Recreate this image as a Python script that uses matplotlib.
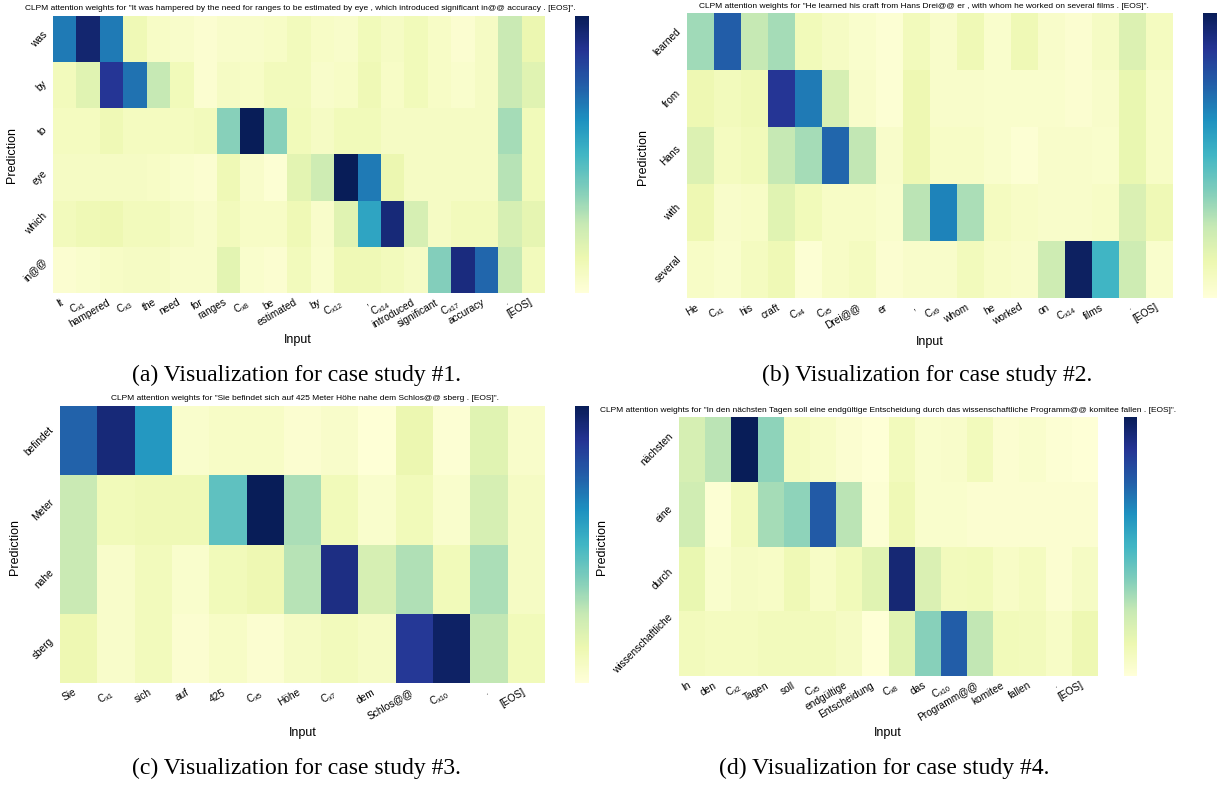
import numpy as np
import seaborn as sns
import matplotlib.pyplot as plt

plt.rcParams["font.family"] = ["Liberation Sans", "DejaVu Sans"]
plt.rcParams["mathtext.fontset"] = "custom"
plt.rcParams["mathtext.rm"] = "Liberation Sans"
plt.rcParams["mathtext.it"] = "Liberation Sans:italic"

# case study 1
sent1 = "It was hampered by the need for ranges to be estimated by eye , which introduced significant in@@ accuracy . [EOS]"
inputs1 = ["It", "C$_{x1}$", "hampered", "C$_{x3}$", "the", "need", "for", "ranges", "C$_{x8}$", "be",
           "estimated", "by", "C$_{x12}$", ",", "C$_{x14}$", "introduced", "significant", "C$_{x17}$",
           "accuracy", ".", "[EOS]"]
preds1 = ["was", "by", "to", "eye", "which", "in@@"]
weights1 = [
    [0.68, 0.95, 0.68, 0.11, 0.06, 0.05, 0.03, 0.05, 0.05, 0.06, 0.09, 0.06, 0.05, 0.10, 0.07, 0.10, 0.06, 0.03, 0.07, 0.24, 0.13],
    [0.09, 0.17, 0.87, 0.70, 0.25, 0.10, 0.03, 0.07, 0.06, 0.09, 0.09, 0.05, 0.06, 0.11, 0.06, 0.10, 0.06, 0.04, 0.07, 0.24, 0.17],
    [0.08, 0.08, 0.11, 0.08, 0.08, 0.08, 0.09, 0.36, 1.00, 0.36, 0.10, 0.07, 0.10, 0.10, 0.07, 0.07, 0.07, 0.07, 0.07, 0.31, 0.10],
    [0.07, 0.07, 0.07, 0.07, 0.06, 0.04, 0.03, 0.11, 0.05, 0.02, 0.16, 0.23, 1.00, 0.68, 0.13, 0.07, 0.07, 0.07, 0.07, 0.28, 0.10],
    [0.09, 0.11, 0.12, 0.09, 0.09, 0.07, 0.05, 0.09, 0.06, 0.06, 0.11, 0.05, 0.17, 0.56, 0.93, 0.20, 0.07, 0.09, 0.09, 0.20, 0.15],
    [0.03, 0.04, 0.06, 0.07, 0.07, 0.05, 0.05, 0.16, 0.04, 0.03, 0.09, 0.04, 0.11, 0.11, 0.09, 0.07, 0.37, 0.92, 0.73, 0.25, 0.09],
]

# case study 2
sent2 = "He learned his craft from Hans Drei@@ er , with whom he worked on several films . [EOS]"
inputs2 = ["He", "C$_{x1}$", "his", "craft", "C$_{x4}$", "C$_{x5}$", "Drei@@", "er", ",", "C$_{x9}$",
           "whom", "he", "worked", "on", "C$_{x14}$", "films", ".", "[EOS]"]
preds2 = ["learned", "from", "Hans", "with", "several"]
weights2 = [
    [0.32, 0.75, 0.25, 0.31, 0.10, 0.07, 0.04, 0.02, 0.09, 0.05, 0.11, 0.04, 0.11, 0.05, 0.03, 0.07, 0.18, 0.08],
    [0.12, 0.09, 0.11, 0.87, 0.68, 0.20, 0.05, 0.02, 0.12, 0.05, 0.05, 0.04, 0.04, 0.04, 0.03, 0.05, 0.14, 0.06],
    [0.18, 0.08, 0.10, 0.25, 0.31, 0.73, 0.26, 0.05, 0.12, 0.06, 0.06, 0.04, 0.02, 0.05, 0.05, 0.04, 0.14, 0.06],
    [0.12, 0.05, 0.06, 0.17, 0.10, 0.06, 0.06, 0.04, 0.27, 0.66, 0.30, 0.08, 0.06, 0.05, 0.05, 0.06, 0.19, 0.11],
    [0.06, 0.04, 0.08, 0.11, 0.02, 0.06, 0.08, 0.03, 0.05, 0.05, 0.09, 0.06, 0.05, 0.23, 0.98, 0.50, 0.23, 0.04],
]

# case study 3
sent3 = "Sie befindet sich auf 425 Meter Höhe nahe dem Schlos@@ sberg . [EOS]"
inputs3 = ["Sie", "C$_{x1}$", "sich", "auf", "425", "C$_{x5}$", "Höhe", "C$_{x7}$", "dem", "Schlos@@",
           "C$_{x10}$", ".", "[EOS]"]
preds3 = ["befindet", "Meter", "nahe", "sberg"]
weights3 = [
    [0.74, 0.93, 0.60, 0.04, 0.06, 0.06, 0.03, 0.05, 0.01, 0.13, 0.02, 0.17, 0.05],
    [0.24, 0.10, 0.11, 0.11, 0.44, 1.00, 0.30, 0.10, 0.04, 0.10, 0.04, 0.20, 0.07],
    [0.24, 0.05, 0.09, 0.04, 0.10, 0.12, 0.28, 0.91, 0.20, 0.29, 0.10, 0.30, 0.07],
    [0.12, 0.05, 0.09, 0.03, 0.06, 0.03, 0.07, 0.09, 0.07, 0.86, 0.97, 0.26, 0.10],
]

# case study 4
sent4 = ("In den nächsten Tagen soll eine endgültige Entscheidung durch das wissenschaftliche "
         "Programm@@ komitee fallen . [EOS]")
inputs4 = ["In", "den", "C$_{x2}$", "Tagen", "soll", "C$_{x5}$", "endgültige", "Entscheidung", "C$_{x8}$",
           "das", "C$_{x10}$", "Programm@@", "komitee", "fallen", ".", "[EOS]"]
preds4 = ["nächsten", "eine", "durch", "wissenschaftliche"]
weights4 = [
    [0.20, 0.27, 1.00, 0.35, 0.08, 0.06, 0.03, 0.01, 0.09, 0.04, 0.05, 0.09, 0.03, 0.04, 0.02, 0.01],
    [0.22, 0.02, 0.09, 0.31, 0.35, 0.76, 0.27, 0.02, 0.11, 0.04, 0.04, 0.03, 0.03, 0.03, 0.03, 0.03],
    [0.14, 0.04, 0.07, 0.06, 0.11, 0.06, 0.10, 0.17, 0.94, 0.19, 0.09, 0.10, 0.06, 0.08, 0.03, 0.07],
    [0.09, 0.08, 0.08, 0.09, 0.09, 0.09, 0.07, 0.01, 0.17, 0.36, 0.75, 0.26, 0.10, 0.09, 0.06, 0.12],
]

captions = ["(a) Visualization for case study #1.", "(b) Visualization for case study #2.",
            "(c) Visualization for case study #3.", "(d) Visualization for case study #4."]

W, H = 1217, 785

# pixel boxes (x0, y0, x1, y1) measured on the reference, y from top
layout = [
    dict(heat=(53, 16, 545, 293), cbar=(575, 16, 589, 293), title=(300, 8), ylab=(12, 155), xlab=(298, 340), cap=(296, 375)),
    dict(heat=(687, 13, 1173, 298), cbar=(1203, 13, 1217, 298), title=(924, 6), ylab=(643, 157), xlab=(930, 342), cap=(927, 375)),
    dict(heat=(60, 406, 545, 683), cbar=(575, 406, 589, 683), title=(305, 398), ylab=(15, 547), xlab=(303, 733), cap=(296, 768)),
    dict(heat=(679, 417, 1098, 676), cbar=(1124, 417, 1137, 676), title=(888, 410), ylab=(602, 547), xlab=(888, 733), cap=(884, 768)),
]


def box(x0, y0, x1, y1):
    return [x0 / W, 1 - y1 / H, (x1 - x0) / W, (y1 - y0) / H]


fig = plt.figure(figsize=(W / 100, H / 100), dpi=100)

cases = [(sent1, inputs1, preds1, weights1), (sent2, inputs2, preds2, weights2),
         (sent3, inputs3, preds3, weights3), (sent4, inputs4, preds4, weights4)]

for (sent, inputs, preds, weights), lay, cap in zip(cases, layout, captions):
    ax = fig.add_axes(box(*lay["heat"]))
    cax = fig.add_axes(box(*lay["cbar"]))
    sns.heatmap(np.array(weights), ax=ax, cbar_ax=cax, cmap="YlGnBu", vmin=0, vmax=1,
                xticklabels=inputs, yticklabels=preds)
    ax.set_xticklabels(inputs, rotation=30, ha="right", fontsize=7.3)
    ax.set_yticklabels(preds, rotation=45, ha="right", va="center", fontsize=7.3)
    ax.tick_params(length=0, pad=3)
    cax.set_yticks([])
    cax.tick_params(length=0)

    fig.text(lay["title"][0] / W, 1 - lay["title"][1] / H,
             'CLPM attention weights for "%s".' % sent, ha="center", va="center", fontsize=6)
    fig.text(lay["ylab"][0] / W, 1 - lay["ylab"][1] / H, "Prediction",
             rotation=90, ha="center", va="center", fontsize=9)
    fig.text(lay["xlab"][0] / W, 1 - lay["xlab"][1] / H, "Input", ha="center", va="center", fontsize=9)
    fig.text(lay["cap"][0] / W, 1 - lay["cap"][1] / H, cap, ha="center", va="center",
             fontsize=17, family=["Liberation Serif", "DejaVu Serif"])

fig.savefig("out.png", dpi=100)
